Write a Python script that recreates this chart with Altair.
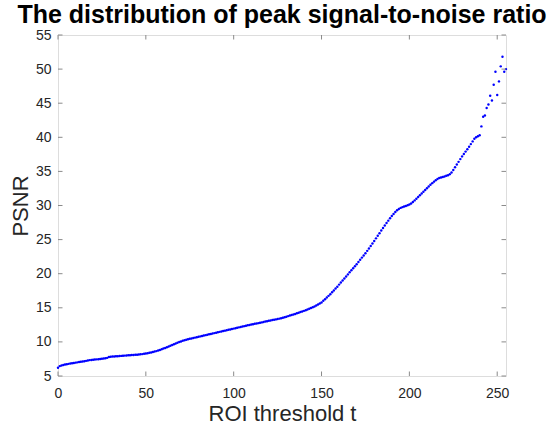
import altair as alt
import pandas as pd

# ROI threshold values and the PSNR measured at each threshold
thresholds = list(range(256))
psnr = [
    # 0-50
    6.20, 6.45, 6.55, 6.62, 6.68, 6.73, 6.78, 6.83, 6.88, 6.92,
    6.96, 7.00, 7.04, 7.08, 7.12, 7.16, 7.22, 7.28, 7.33, 7.36,
    7.38, 7.41, 7.44, 7.47, 7.50, 7.53, 7.56, 7.60, 7.66, 7.78,
    7.82, 7.85, 7.87, 7.89, 7.91, 7.93, 7.95, 7.97, 7.99, 8.01,
    8.03, 8.05, 8.07, 8.09, 8.11, 8.13, 8.15, 8.18, 8.21, 8.25,
    8.30,
    # 51-100
    8.35, 8.40, 8.46, 8.52, 8.58, 8.65, 8.73, 8.82, 8.92, 9.02,
    9.12, 9.23, 9.34, 9.45, 9.56, 9.67, 9.78, 9.88, 9.98, 10.07,
    10.16, 10.24, 10.32, 10.39, 10.45, 10.51, 10.57, 10.63, 10.69, 10.75,
    10.81, 10.87, 10.93, 10.99, 11.05, 11.11, 11.17, 11.23, 11.29, 11.35,
    11.41, 11.47, 11.53, 11.59, 11.65, 11.71, 11.77, 11.83, 11.89, 11.95,
    # 101-150
    12.01, 12.07, 12.13, 12.19, 12.25, 12.31, 12.37, 12.43, 12.49, 12.55,
    12.60, 12.65, 12.70, 12.75, 12.80, 12.86, 12.92, 12.98, 13.04, 13.10,
    13.15, 13.20, 13.25, 13.30, 13.35, 13.41, 13.48, 13.55, 13.62, 13.70,
    13.78, 13.86, 13.94, 14.02, 14.10, 14.19, 14.28, 14.37, 14.46, 14.55,
    14.65, 14.75, 14.86, 14.97, 15.08, 15.20, 15.33, 15.47, 15.62, 15.78,
    # 151-200
    16.02, 16.26, 16.50, 16.75, 17.00, 17.27, 17.54, 17.82, 18.10, 18.40,
    18.70, 19.00, 19.30, 19.60, 19.90, 20.20, 20.50, 20.80, 21.10, 21.40,
    21.72, 22.04, 22.36, 22.68, 23.00, 23.35, 23.70, 24.05, 24.42, 24.80,
    25.18, 25.56, 25.94, 26.32, 26.70, 27.07, 27.43, 27.78, 28.12, 28.45,
    28.76, 29.05, 29.30, 29.50, 29.65, 29.76, 29.85, 29.94, 30.03, 30.15,
    # 201-240
    30.30, 30.50, 30.75, 31.00, 31.25, 31.50, 31.76, 32.02, 32.28, 32.54,
    32.80, 33.05, 33.28, 33.50, 33.70, 33.90, 34.02, 34.10, 34.18, 34.26,
    34.35, 34.45, 34.60, 34.85, 35.20, 35.60, 36.00, 36.40, 36.80, 37.20,
    37.55, 37.90, 38.25, 38.60, 39.00, 39.40, 39.80, 40.00, 40.15, 40.30,
    # 241-255
    41.60, 43.00, 43.20, 44.30, 44.80, 46.10, 45.40, 47.70, 49.60, 46.20,
    48.20, 50.40, 51.80, 49.60, 50.00,
]

x_ticks = [0, 50, 100, 150, 200, 250]
y_ticks = [5, 10, 15, 20, 25, 30, 35, 40, 45, 50, 55]

W, H = 448, 341
TICK = 4.5
FONT = "Liberation Sans"
INK = "#262626"
FRAME = "#8a8a8a"

df = pd.DataFrame({"t": thresholds, "psnr": psnr})
xt = pd.DataFrame({"v": x_ticks})
yt = pd.DataFrame({"v": y_ticks})

xscale = alt.Scale(domain=[0, 255], nice=False, zero=False)
yscale = alt.Scale(domain=[5, 55], nice=False, zero=False)

x_axis = alt.Axis(
    values=x_ticks, format="d", title="ROI threshold t",
    titleFont=FONT, titleFontSize=22, titleFontWeight="normal", titleColor=INK,
    titlePadding=3,
    labelFont=FONT, labelFontSize=14, labelColor=INK, labelPadding=10,
    labelOverlap=False, labelFlush=False,
    ticks=False, tickSize=0, domain=False, grid=False,
)
y_axis = alt.Axis(
    values=y_ticks, format="d", title="PSNR",
    titleFont=FONT, titleFontSize=22, titleFontWeight="normal", titleColor=INK,
    titleBaseline="alphabetic", titleX=-31, titleY=H / 2, titleAngle=-90,
    titleAlign="center",
    labelFont=FONT, labelFontSize=14, labelColor=INK, labelPadding=7,
    labelOverlap=False, labelFlush=False,
    ticks=False, tickSize=0, domain=False, grid=False,
)

points = alt.Chart(df).mark_circle(size=6, color="#0000ff", opacity=1).encode(
    x=alt.X("t:Q", scale=xscale, axis=x_axis),
    y=alt.Y("psnr:Q", scale=yscale, axis=y_axis),
)

# inward tick marks on all four sides of the box
tick_style = dict(color=FRAME, strokeWidth=1)
xb = alt.Chart(xt).mark_rule(**tick_style).encode(
    x=alt.X("v:Q", scale=xscale, axis=x_axis), y=alt.value(H), y2=alt.value(H - TICK))
xtop = alt.Chart(xt).mark_rule(**tick_style).encode(
    x=alt.X("v:Q", scale=xscale, axis=x_axis), y=alt.value(0), y2=alt.value(TICK))
yl = alt.Chart(yt).mark_rule(**tick_style).encode(
    y=alt.Y("v:Q", scale=yscale, axis=y_axis), x=alt.value(0), x2=alt.value(TICK))
yr = alt.Chart(yt).mark_rule(**tick_style).encode(
    y=alt.Y("v:Q", scale=yscale, axis=y_axis), x=alt.value(W), x2=alt.value(W - TICK))

chart = alt.layer(points, xb, xtop, yl, yr).properties(
    width=W, height=H,
    autosize=alt.AutoSizeParams(type="none"),
    padding={"left": 58, "top": 35, "right": 51, "bottom": 53},
    title=alt.TitleParams(
        "The distribution of peak signal-to-noise ratio",
        font=FONT, fontSize=25, fontWeight="bold", color="#000000",
        anchor="middle", baseline="alphabetic", offset=7, dy=27,
    ),
).configure_view(stroke=FRAME, strokeWidth=1).configure(background="white")

chart.save("out.html", embed_options={"renderer": "svg", "actions": False})
